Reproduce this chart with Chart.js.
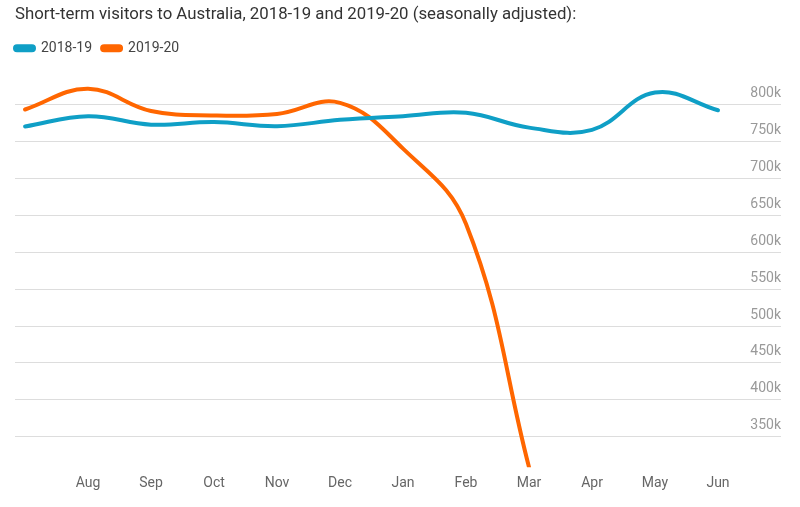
<!DOCTYPE html>
<html>
<head>
<meta charset="utf-8">
<script src="https://cdn.jsdelivr.net/npm/chart.js@4"></script>
<style>
  html, body { margin:0; padding:0; background:#fff; }
  #wrap { width:800px; height:507px; }
</style>
</head>
<body>
<div id="wrap"><canvas id="c" width="800" height="507"></canvas></div>
<script>
// Visitantes de corta estadía (en personas)
const months = ['Jul','Aug','Sep','Oct','Nov','Dec','Jan','Feb','Mar','Apr','May','Jun'];
const xTickLabels = ['','Aug','Sep','Oct','Nov','Dec','Jan','Feb','Mar','Apr','May','Jun'];
const yTicks = [350000,400000,450000,500000,550000,600000,650000,700000,750000,800000];
const visitors1819 = [770000,784000,772500,776000,770500,779000,784000,788500,768500,765500,816000,792000];
const visitors1920 = [793000,821000,791000,785000,787000,802000,740000,638000,308900,null,null,null];

const BLUE = '#0f9fc6';
const ORANGE = '#ff6600';

Chart.defaults.font.family = 'Roboto';

function puntos(arr){
  return arr.map((v,i)=> ({x:i, y:v}));
}

function serie(label, data, color){
  return {
    label, data: puntos(data),
    borderColor: color, backgroundColor: color,
    borderWidth: 4, borderCapStyle: 'round',
    pointRadius: 0, pointHoverRadius: 0,
    tension: 0.4, spanGaps: false
  };
}

// corre la leyenda para que quede alineada con el título
const correrLeyenda = {
  id: 'correrLeyenda',
  afterLayout(chart){ if(chart.legend) chart.legend.left -= 10; }
};

new Chart(document.getElementById('c'), {
  type: 'line',
  data: {
    datasets: [
      serie('2018-19', visitors1819, BLUE),
      serie('2019-20', visitors1920, ORANGE)
    ]
  },
  options: {
    responsive: false,
    animation: false,
    layout: { padding: { left: 15, right: 19, top: 0, bottom: 7 } },
    plugins: {
      title: {
        display: true, align: 'start',
        text: 'Short-term visitors to Australia, 2018-19 and 2019-20 (seasonally adjusted):',
        color: '#333', font: { size: 16.8, weight: 'normal' },
        padding: { top: 5, bottom: 6 }
      },
      legend: {
        display: true, align: 'start',
        labels: {
          color: '#444', font: { size: 14 },
          boxWidth: 19, boxHeight: 4, useBorderRadius: true, borderRadius: 2,
          padding: 10
        }
      },
      tooltip: { enabled: false }
    },
    scales: {
      x: {
        type: 'linear', min: -0.16, max: 12,
        afterBuildTicks: s => { s.ticks = months.map((m,i)=>({value:i})); },
        ticks: {
          color: '#666', font: { size: 14 }, padding: 8, maxRotation: 0, autoSkip: false,
          callback: v => xTickLabels[v] ?? ''
        },
        grid: { display: false, drawTicks: false },
        border: { display: false }
      },
      y: {
        position: 'right', min: 309000, max: 853000,
        afterBuildTicks: s => { s.ticks = yTicks.map(v=>({value:v})); },
        ticks: {
          mirror: true, padding: 0, labelOffset: -11,
          color: '#999', font: { size: 14 },
          callback: v => (v/1000) + 'k'
        },
        grid: { color: '#dddddd', lineWidth: 1, drawTicks: false },
        border: { display: false }
      }
    }
  },
  plugins: [correrLeyenda]
});
</script>
</body>
</html>
